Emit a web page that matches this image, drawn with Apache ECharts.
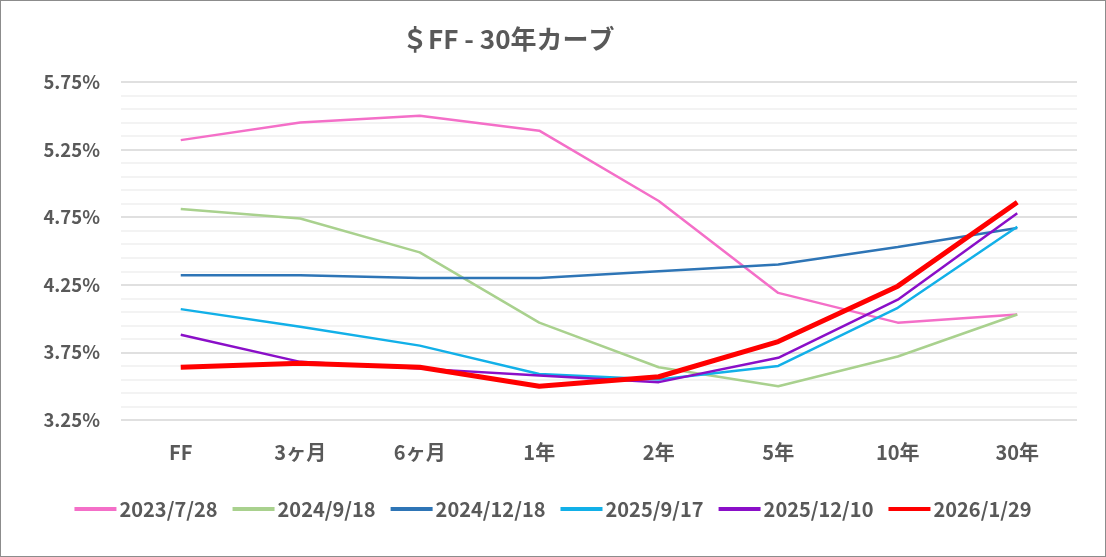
<!DOCTYPE html>
<html>
<head>
<meta charset="utf-8">
<script src="https://cdn.jsdelivr.net/npm/echarts@6/dist/echarts.min.js"></script>
<style>
  html, body { margin: 0; padding: 0; background: #fff; }
  #chart { width: 1104px; height: 555px; border: 1px solid #8c8c8c; }
</style>
</head>
<body>
<div id="chart"></div>
<script>
// 年限（横軸）
const tenors = ['FF', '3ヶ月', '6ヶ月', '1年', '2年', '5年', '10年', '30年'];

// 各日付のカーブ (%)
const c20230728 = [5.32, 5.45, 5.50, 5.39, 4.87, 4.19, 3.97, 4.03];
const c20240918 = [4.81, 4.74, 4.49, 3.97, 3.64, 3.50, 3.72, 4.03];
const c20241218 = [4.32, 4.32, 4.30, 4.30, 4.35, 4.40, 4.53, 4.67];
const c20250917 = [4.07, 3.94, 3.80, 3.59, 3.55, 3.65, 4.08, 4.68];
const c20251210 = [3.88, 3.68, 3.63, 3.58, 3.53, 3.71, 4.14, 4.78];
const c20260129 = [3.64, 3.67, 3.64, 3.50, 3.57, 3.83, 4.24, 4.86];

const seriesDefs = [
    { name: '2023/7/28', data: c20230728, color: '#F46FC8', width: 2.5 },
    { name: '2024/9/18', data: c20240918, color: '#A9D18E', width: 2.5 },
    { name: '2024/12/18', data: c20241218, color: '#2E75B6', width: 2.5 },
    { name: '2025/9/17', data: c20250917, color: '#12B0E8', width: 2.5 },
    { name: '2025/12/10', data: c20251210, color: '#8A0FC8', width: 2.5 },
    { name: '2026/1/29', data: c20260129, color: '#FF0000', width: 5 }
];

const labelColor = '#595959';
const fontFamily = '"Noto Sans CJK JP", "Noto Sans", sans-serif';

const chart = echarts.init(document.getElementById('chart'));

chart.setOption({
    animation: false,
    backgroundColor: '#fff',
    textStyle: { fontFamily: fontFamily },
    title: {
        text: '＄FF - 30年カーブ',
        left: 396, top: 20,
        textStyle: { color: labelColor, fontSize: 26, fontWeight: 'bold', fontFamily: fontFamily }
    },
    legend: {
        bottom: 32,
        left: 'center',
        itemWidth: 42,
        itemHeight: 4,
        itemGap: 15,
        icon: 'rect',
        textStyle: { color: labelColor, fontSize: 20, fontWeight: 'bold', padding: [0, 0, 0, -2] },
        data: seriesDefs.map(s => s.name)
    },
    grid: { left: 120, right: 28, top: 81, bottom: 136, containLabel: false },
    xAxis: {
        type: 'category',
        data: tenors,
        boundaryGap: true,
        axisLine: { show: false },
        axisTick: { show: false },
        axisLabel: { color: labelColor, fontSize: 20, fontWeight: 'bold', margin: 22 }
    },
    yAxis: {
        type: 'value',
        min: 3.25, max: 5.75, interval: 0.5,
        axisLine: { show: false },
        axisTick: { show: false },
        axisLabel: {
            color: labelColor, fontSize: 18.5, fontWeight: 'bold', margin: 21,
            formatter: v => v.toFixed(2) + '%'
        },
        splitLine: { lineStyle: { color: '#d6d6d6', width: 1.5 } },
        minorTick: { show: false, splitNumber: 5 },
        minorSplitLine: { show: true, lineStyle: { color: '#efefef', width: 1.5 } }
    },
    series: seriesDefs.map(s => ({
        name: s.name,
        type: 'line',
        data: s.data,
        symbol: 'none',
        lineStyle: { color: s.color, width: s.width },
        itemStyle: { color: s.color }
    }))
});
</script>
</body>
</html>
